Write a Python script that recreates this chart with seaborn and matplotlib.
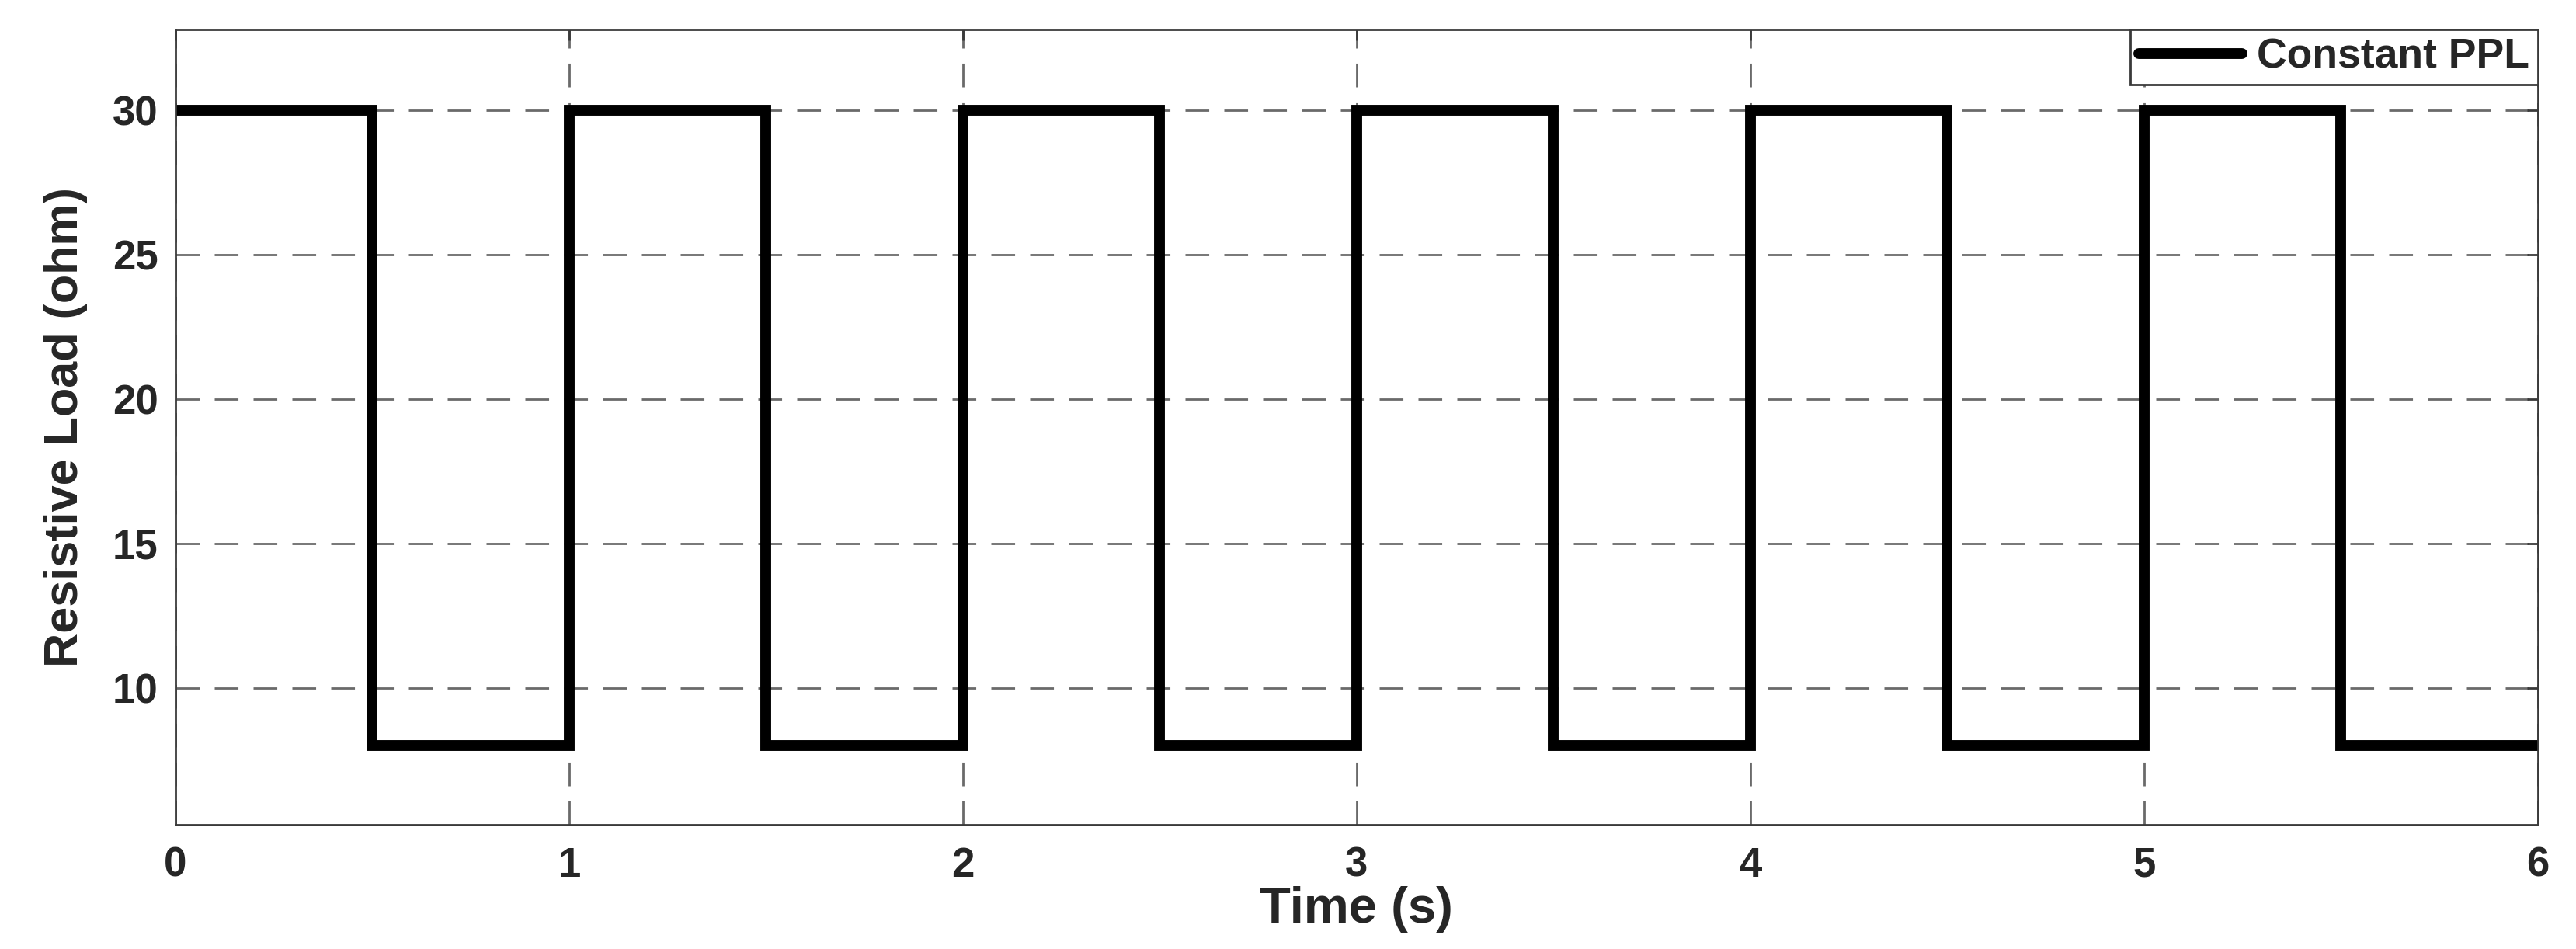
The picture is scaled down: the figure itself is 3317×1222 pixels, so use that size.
import numpy as np
import pandas as pd
import matplotlib
matplotlib.use("Agg")
import matplotlib.pyplot as plt
import seaborn as sns

# switching instants (s) and load level held from each instant (ohm)
time_s = [0.0, 0.5, 1.0, 1.5, 2.0, 2.5, 3.0, 3.5, 4.0, 4.5, 5.0, 5.5, 6.0]
load_ohm = [30, 8, 30, 8, 30, 8, 30, 8, 30, 8, 30, 8, 8]
series_name = "Constant PPL"

x_ticks = [0, 1, 2, 3, 4, 5, 6]
y_ticks = [10, 15, 20, 25, 30]

sns.set_style("white")
plt.rcParams['font.family'] = ['Liberation Sans', 'DejaVu Sans']
plt.rcParams['font.weight'] = 'bold'

df = pd.DataFrame({"t": time_s, "R": load_ohm})

fig = plt.figure(figsize=(33.17, 12.22), dpi=100)
ax = fig.add_axes([0.0681, 0.1309, 0.9171, 0.838])

sns.lineplot(data=df, x="t", y="R", ax=ax, color="black", linewidth=10,
             drawstyle="steps-post", estimator=None, sort=False,
             label=series_name, solid_joinstyle="miter")

ax.set_xlim(0, 6)
ax.set_ylim(5.27, 32.8)
ax.set_xticks(x_ticks)
ax.set_yticks(y_ticks)

ax.grid(True, color="#6a6a6a", linewidth=2, linestyle=(0, (11, 7)))
ax.set_axisbelow(True)

for sp in ax.spines.values():
    sp.set_color("#3a3a3a")
    sp.set_linewidth(2)
    sp.set_visible(True)

ax.tick_params(direction="in", length=10, width=2, color="#3a3a3a",
               top=True, right=True, labelsize=38, pad=16)
for lbl in ax.get_xticklabels() + ax.get_yticklabels():
    lbl.set_fontweight("bold")
ax.tick_params(axis="x", pad=20)

ax.set_xlabel("Time (s)", fontsize=47, fontweight="bold")
ax.set_ylabel("Resistive Load (ohm)", fontsize=44, fontweight="bold")
ax.xaxis.set_label_coords(0.5, -0.077)
ax.yaxis.set_label_coords(-0.037, 0.5)

leg = ax.legend(loc="upper right", borderaxespad=0, fontsize=38.5,
                frameon=True, fancybox=False, framealpha=1,
                handlelength=2.5, handletextpad=0.35, borderpad=0.2)
leg.get_frame().set_edgecolor("#3a3a3a")
leg.get_frame().set_linewidth(2)
for txt in leg.get_texts():
    txt.set_fontweight("bold")

fig.savefig("out.png", dpi=100)
